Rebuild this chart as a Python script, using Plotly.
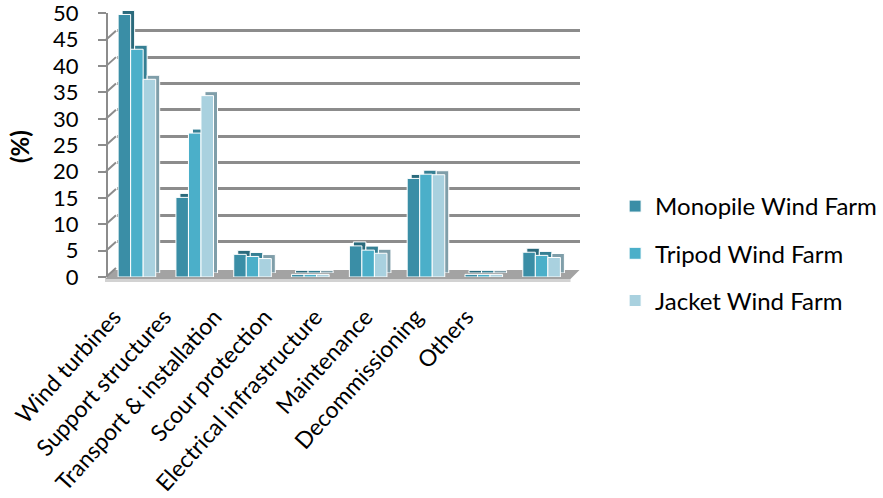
import plotly.graph_objects as go

categories = ["Wind turbines", "Support structures", "Transport & installation",
              "Scour protection", "Electrical infrastructure", "Maintenance",
              "Decommissioning", "Others"]
series_names = ["Monopile Wind Farm", "Tripod Wind Farm", "Jacket Wind Farm"]
monopile = [49.8, 15.1, 4.3, 0.5, 5.9, 18.7, 0.5, 4.7]
tripod = [43.2, 27.3, 3.9, 0.5, 5.1, 19.5, 0.5, 4.1]
jacket = [37.5, 34.4, 3.5, 0.5, 4.5, 19.4, 0.5, 3.7]
y_ticks = [0, 5, 10, 15, 20, 25, 30, 35, 40, 45, 50]

front_colors = ["#3a8ea6", "#4bafc9", "#a9d1df"]
side_colors = ["#2a6a7c", "#357f93", "#7f9ea9"]
series = [monopile, tripod, jacket]

FONT = "Lato"
FW, FH = 883, 498


def fx(px):
    return px / FW


def fy(py):
    return (FH - py) / FH


# front plane geometry (pixels)
FX0, FX1 = 108, 570.5
FY0, FY1 = 277, 13.3
YMAX = 50.0
PPU = (FY0 - FY1) / YMAX
BACK = 9      # wall depth offset
DEPTH = 4     # bar depth offset
YR = [0, YMAX + 0.02]

fig = go.Figure()

# back wall (gridlines only)
fig.add_trace(go.Scatter(x=categories, y=monopile, mode="markers",
                         marker=dict(opacity=0), showlegend=False,
                         hoverinfo="skip", xaxis="x", yaxis="y"))
# bar depth (side/top faces)
for name, vals, c in zip(series_names, series, side_colors):
    fig.add_trace(go.Bar(x=categories, y=vals, name=name, marker_color=c,
                         marker_line=dict(color="white", width=1),
                         showlegend=False, hoverinfo="skip",
                         xaxis="x2", yaxis="y2"))
# front faces
for name, vals, c in zip(series_names, series, front_colors):
    fig.add_trace(go.Bar(x=categories, y=vals, name=name, marker_color=c,
                         marker_line=dict(color="white", width=1),
                         legendgroup=name, xaxis="x3", yaxis="y3"))
# category label axis
fig.add_trace(go.Scatter(x=categories, y=monopile, mode="markers",
                         marker=dict(opacity=0), showlegend=False,
                         hoverinfo="skip", xaxis="x4", yaxis="y4"))

hidden_x = dict(showgrid=False, zeroline=False, showline=False,
                showticklabels=False, ticks="", type="category")

fig.update_layout(
    width=FW, height=FH,
    margin=dict(l=0, r=0, t=0, b=0, pad=0, autoexpand=False),
    paper_bgcolor="white", plot_bgcolor="rgba(0,0,0,0)",
    font=dict(family=FONT, color="black"),
    barmode="group", bargap=0.35, bargroupgap=0,
    hovermode=False,
    xaxis=dict(domain=[fx(FX0 + BACK), fx(FX1 + BACK)], anchor="y", **hidden_x),
    yaxis=dict(domain=[fy(FY0 - BACK), fy(FY1 - BACK)], anchor="x", range=YR,
               tickvals=y_ticks, showgrid=True, gridcolor="#8c8c8c", gridwidth=2.5,
               zeroline=False, showline=False, showticklabels=False, ticks=""),
    xaxis2=dict(domain=[fx(FX0 + DEPTH), fx(FX1 + DEPTH)], anchor="y2", **hidden_x),
    yaxis2=dict(domain=[fy(FY0 - DEPTH), fy(FY1 - DEPTH)], anchor="x2", range=YR,
                visible=False),
    xaxis3=dict(domain=[fx(FX0), fx(FX1)], anchor="y3", **hidden_x),
    yaxis3=dict(domain=[fy(FY0), fy(FY1)], anchor="x3", range=YR,
                tickvals=y_ticks, showgrid=False, zeroline=False,
                showline=True, linecolor="#8c8c8c", linewidth=2,
                ticks="outside", ticklen=8, tickwidth=2, tickcolor="#8c8c8c",
                ticklabelstandoff=15, ticklabeloverflow="allow",
                tickfont=dict(size=22, family=FONT, color="black")),
    xaxis4=dict(domain=[fx(90), fx(490)], anchor="free", position=fy(298),
                type="category", showgrid=False, zeroline=False, showline=False,
                ticks="", tickangle=-48,
                tickfont=dict(size=23, family=FONT, color="black")),
    yaxis4=dict(domain=[0, 0.01], anchor="x4", visible=False, range=[100, 200]),
    legend=dict(x=0.999, y=fy(184), xanchor="right", yanchor="top",
                font=dict(size=24, family=FONT, color="black"),
                tracegroupgap=13, bgcolor="rgba(0,0,0,0)"),
    annotations=[dict(text="<b>(%)</b>", x=fx(19), y=fy(147), xref="paper",
                      yref="paper", xanchor="center", yanchor="middle",
                      showarrow=False, textangle=-90,
                      font=dict(size=24, family=FONT, color="black"))],
)

shapes = []
# floor slab
shapes.append(dict(type="path", xref="paper", yref="paper",
                   path=f"M {fx(FX0-3)},{fy(FY0+2)} L {fx(FX1)},{fy(FY0+2)} "
                        f"L {fx(FX1+BACK)},{fy(FY0+2-BACK)} L {fx(FX0-3+BACK)},{fy(FY0+2-BACK)} Z",
                   fillcolor="#a3a3a3", line=dict(width=0), layer="below"))
shapes.append(dict(type="rect", xref="paper", yref="paper",
                   x0=fx(FX0-3), x1=fx(FX1), y0=fy(FY0+5), y1=fy(FY0+2),
                   fillcolor="#d2d2d2", line=dict(width=0), layer="below"))
# side wall diagonals from front axis to back wall
for v in y_ticks:
    shapes.append(dict(type="line", xref="paper", yref="y3",
                       x0=fx(FX0 - 2), x1=fx(FX0 - 2 + BACK + 1),
                       y0=v, y1=v + BACK / PPU,
                       line=dict(color="#8c8c8c", width=2), layer="below"))
fig.update_layout(shapes=shapes)

fig.write_html("out.html")
